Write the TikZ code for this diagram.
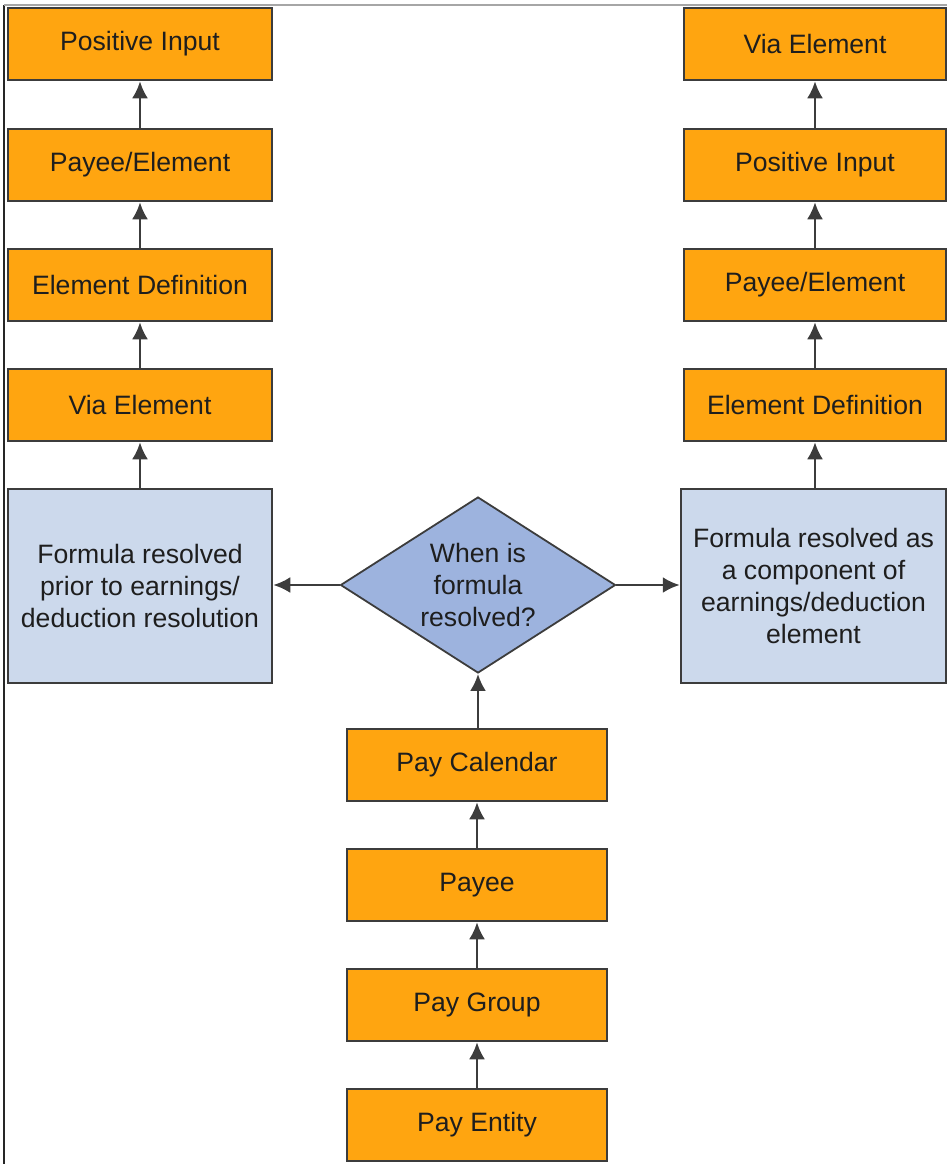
\documentclass[tikz,border=0pt]{standalone}
\usepackage{fontspec}
\setmainfont{Liberation Sans}
\usepackage{tikz}
\usetikzlibrary{arrows.meta,shapes.geometric}
\definecolor{payorange}{HTML}{FFA510}
\definecolor{paypale}{HTML}{CCD9EC}
\definecolor{payblue}{HTML}{9DB3DE}
\definecolor{payline}{HTML}{3C3C3C}
\definecolor{paytext}{HTML}{1E1E1E}
\tikzset{
  pay-step/.style={draw=payline, fill=payorange, line width=1.25pt,
    minimum width=132pt, minimum height=36pt, inner sep=2pt, align=center,
    text=paytext, font=\fontsize{13.3}{16}\selectfont},
  pay-outcome/.style={draw=payline, fill=paypale, line width=1.25pt,
    minimum width=132pt, minimum height=97pt, inner sep=2pt, align=center,
    text=paytext, font=\fontsize{13.3}{16}\selectfont},
  pay-decision/.style={diamond, shape aspect=1.5625, draw=payline, fill=payblue,
    line width=0.9pt, minimum width=137.5pt, minimum height=88pt, inner sep=0pt,
    align=center, text=paytext, font=\fontsize{13.3}{16}\selectfont},
  pay-flow/.style={-{Latex[length=8.5pt,width=8pt]}, draw=payline, line width=1.3pt}
}

\begin{document}
\begin{tikzpicture}[x=0.5pt, y=-0.5pt]
  \useasboundingbox (0,0) rectangle (947,1164);
  % page frame
  \draw[black!85, line width=1pt] (4,5) -- (4,1164);
  \draw[black!35, line width=0.6pt] (4,5) -- (947,5);

  % left column (resolved first)
  \node[pay-step] (pos-in-l) at (140,44) {Positive Input};
  \node[pay-step] (payee-el-l) at (140,165) {Payee/Element};
  \node[pay-step] (elem-def-l) at (140,285) {Element Definition};
  \node[pay-step] (via-el-l) at (140,405) {Via Element};
  \node[pay-outcome] (early) at (140,586) {Formula resolved\\prior to earnings/\\deduction resolution};

  % right column (resolved as component)
  \node[pay-step, minimum width=131pt] (via-el-r) at (815,44) {Via Element};
  \node[pay-step, minimum width=131pt] (pos-in-r) at (815,165) {Positive Input};
  \node[pay-step, minimum width=131pt] (payee-el-r) at (815,285) {Payee/Element};
  \node[pay-step, minimum width=131pt] (elem-def-r) at (815,405) {Element Definition};
  \node[pay-outcome, minimum width=132.5pt] (late) at (813.5,586) {Formula resolved as\\a component of\\earnings/deduction\\element};

  % decision
  \node[pay-decision] (decide) at (478,585) {When is\\formula\\resolved?};

  % bottom chain
  \node[pay-step, minimum width=130pt] (calendar) at (477,765) {Pay Calendar};
  \node[pay-step, minimum width=130pt] (payee) at (477,885) {Payee};
  \node[pay-step, minimum width=130pt] (group) at (477,1005) {Pay Group};
  \node[pay-step, minimum width=130pt] (entity) at (477,1125) {Pay Entity};

  % connectors
  \draw[pay-flow] (entity) -- (group);
  \draw[pay-flow] (group) -- (payee);
  \draw[pay-flow] (payee) -- (calendar);
  \draw[pay-flow] (calendar.north -| decide.south) -- (decide.south);
  \draw[pay-flow] (decide.west) -- (early.east |- decide.west);
  \draw[pay-flow] (decide.east) -- (late.west |- decide.east);
  \draw[pay-flow] (early) -- (via-el-l);
  \draw[pay-flow] (via-el-l) -- (elem-def-l);
  \draw[pay-flow] (elem-def-l) -- (payee-el-l);
  \draw[pay-flow] (payee-el-l) -- (pos-in-l);
  \draw[pay-flow] (late.north -| elem-def-r) -- (elem-def-r);
  \draw[pay-flow] (elem-def-r) -- (payee-el-r);
  \draw[pay-flow] (payee-el-r) -- (pos-in-r);
  \draw[pay-flow] (pos-in-r) -- (via-el-r);
\end{tikzpicture}
\end{document}
